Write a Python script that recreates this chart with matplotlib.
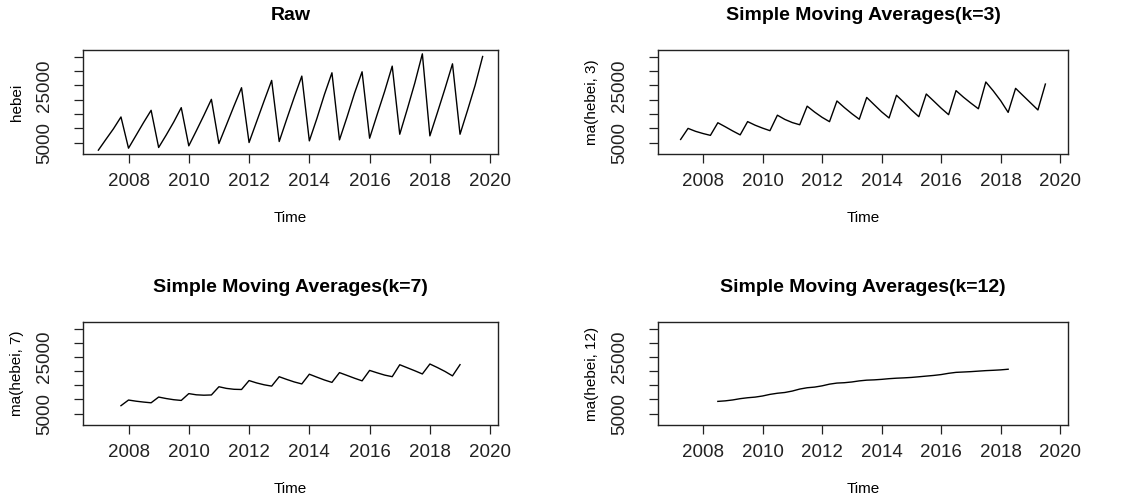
import numpy as np
import matplotlib.pyplot as plt

plt.rcParams['font.family'] = ['Liberation Sans', 'DejaVu Sans']

# quarterly series, 2007 Q1 .. 2019 Q4 (cumulative within year)
start_year = 2007
hebei = [
    2330, 6100, 9800, 13950,
    3020, 7500, 12000, 16280,
    3260, 7600, 12170, 17210,
    3840, 9100, 14500, 20120,
    4650, 11200, 17800, 24190,
    5000, 12300, 19600, 26750,
    5350, 13200, 20900, 28260,
    5580, 13400, 21800, 29420,
    5930, 13900, 22300, 29770,
    6510, 14800, 22950, 31750,
    7900, 16700, 25860, 36050,
    7330, 15500, 23850, 32560,
    7900, 16300, 25000, 35120,
]
x_ticks = [2008, 2010, 2012, 2014, 2016, 2018, 2020]
y_ticks = [5000, 10000, 15000, 20000, 25000, 30000, 35000]
y_labels = ['5000', '', '', '', '25000', '', '']
orders = [3, 7, 12]


def ma(x, k):
    # centred moving average, 2xk for even k (like forecast::ma)
    x = np.asarray(x, float)
    if k % 2:
        w = np.ones(k) / k
    else:
        w = np.r_[0.5, np.ones(k - 1), 0.5] / k
    half = len(w) // 2
    out = np.full(len(x), np.nan)
    out[half:len(x) - half] = np.convolve(x, w, mode='valid')
    return out


t = start_year + np.arange(len(hebei)) / 4
ext_x = 0.04 * (t[-1] - t[0])
ext_y = 0.04 * (max(hebei) - min(hebei))

W, H = 1126, 500
fig = plt.figure(figsize=(W / 100, H / 100), dpi=100)

# (left px, top px, width px, height px)
boxes = [(83, 50, 415, 104), (658, 50, 410, 104),
         (83, 322, 415, 103), (658, 322, 410, 103)]
series = [hebei] + [ma(hebei, k) for k in orders]
titles = ['Raw'] + ['Simple Moving Averages(k=%d)' % k for k in orders]
ylabs = ['hebei'] + ['ma(hebei, %d)' % k for k in orders]

for (l, tp, w, h), y, title, ylab in zip(boxes, series, titles, ylabs):
    ax = fig.add_axes([l / W, 1 - (tp + h) / H, w / W, h / H])
    ax.plot(t, y, color='black', lw=1.0)
    ax.set_xlim(t[0] - ext_x, t[-1] + ext_x)
    ax.set_ylim(min(hebei) - ext_y, max(hebei) + ext_y)
    ax.set_xticks(x_ticks)
    ax.set_yticks(y_ticks)
    ax.set_yticklabels(y_labels, rotation=90, va='center')
    ax.tick_params(length=6.5, width=0.9, labelsize=13.5, colors='#222222')
    ax.tick_params(axis='x', pad=7)
    ax.tick_params(axis='y', pad=15)
    for s in ax.spines.values():
        s.set_linewidth(1.0)
        s.set_color('#222222')
    ax.text(0.5, 1 + 35 / h, title, transform=ax.transAxes, ha='center',
            va='center', fontsize=14, fontweight='bold')
    ax.text(0.5, -64 / h, 'Time', transform=ax.transAxes, ha='center',
            va='center', fontsize=11)
    ax.text(-66 / w, 0.5, ylab, transform=ax.transAxes, ha='center',
            va='center', rotation=90, fontsize=11)

fig.savefig('out.png', dpi=100)
